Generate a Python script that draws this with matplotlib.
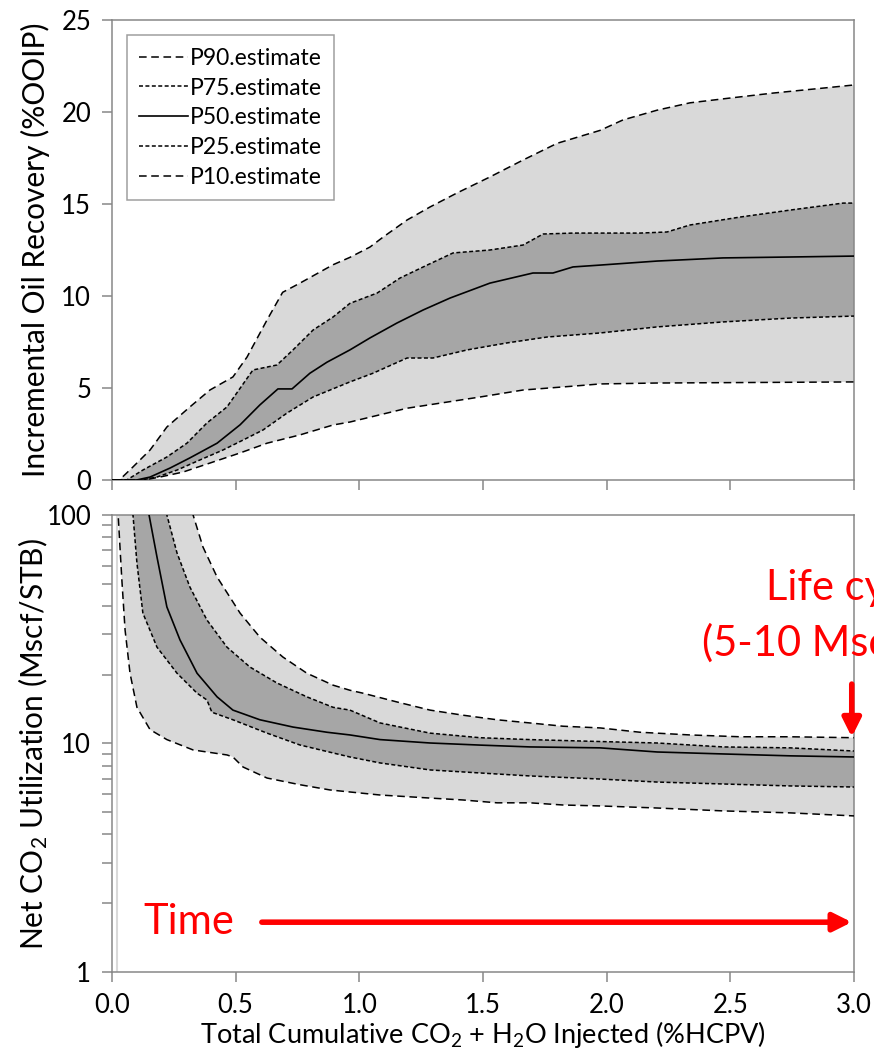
import numpy as np
import matplotlib.pyplot as plt
from matplotlib.ticker import FixedLocator, FormatStrFormatter, LogLocator, NullFormatter

plt.rcParams['font.family'] = ['Lato', 'DejaVu Sans']
plt.rcParams['mathtext.fontset'] = 'custom'
plt.rcParams['mathtext.rm'] = 'Lato'
plt.rcParams['mathtext.default'] = 'regular'

# %% top panel: incremental oil recovery (%OOIP) vs injected (%HCPV)
p90_x = [0, 0.03, 0.085, 0.154, 0.222, 0.315, 0.396, 0.489, 0.546, 0.627, 0.69, 0.76, 0.894, 0.962,
         1.043, 1.096, 1.193, 1.286, 1.395, 1.528, 1.662, 1.8, 1.973, 2.066, 2.204, 2.337, 2.499,
         2.673, 2.875, 3.0]
p90_y = [0, 0, 0.71, 1.63, 2.88, 3.97, 4.89, 5.6, 6.68, 8.7, 10.2, 10.7, 11.7, 12.1,
         12.66, 13.2, 14.13, 14.84, 15.6, 16.47, 17.39, 18.3, 19.0, 19.57, 20.1, 20.5, 20.76,
         21.03, 21.3, 21.47]
p75_x = [0, 0.06, 0.125, 0.222, 0.303, 0.384, 0.465, 0.57, 0.667, 0.732, 0.813, 0.894, 0.962,
         1.072, 1.165, 1.274, 1.379, 1.528, 1.662, 1.743, 1.864, 1.973, 2.135, 2.244, 2.337,
         2.539, 2.742, 2.956, 3.0]
p75_y = [0, 0, 0.54, 1.25, 2.0, 3.1, 3.97, 5.98, 6.25, 7.07, 8.15, 8.86, 9.6,
         10.16, 10.98, 11.68, 12.34, 12.5, 12.77, 13.37, 13.42, 13.42, 13.42, 13.48, 13.86,
         14.29, 14.67, 15.05, 15.05]
p50_x = [0, 0.1, 0.154, 0.235, 0.315, 0.425, 0.518, 0.598, 0.671, 0.728, 0.8, 0.869, 0.962,
         1.043, 1.152, 1.258, 1.367, 1.528, 1.702, 1.783, 1.864, 1.973, 2.204, 2.47, 2.742, 3.0]
p50_y = [0, 0, 0.16, 0.65, 1.2, 2.0, 3.0, 4.08, 4.95, 4.95, 5.8, 6.4, 7.07,
         7.72, 8.53, 9.24, 9.89, 10.7, 11.25, 11.25, 11.58, 11.68, 11.9, 12.07, 12.12, 12.17]
p25_x = [0, 0.12, 0.182, 0.263, 0.356, 0.449, 0.53, 0.611, 0.708, 0.813, 0.882, 0.962, 1.055,
         1.193, 1.298, 1.436, 1.597, 1.759, 1.973, 2.204, 2.47, 2.742, 3.0]
p25_y = [0, 0, 0.16, 0.54, 1.09, 1.63, 2.17, 2.72, 3.64, 4.51, 4.89, 5.33, 5.8,
         6.63, 6.63, 7.07, 7.45, 7.77, 7.99, 8.32, 8.59, 8.8, 8.91]
p10_x = [0, 0.13, 0.194, 0.287, 0.396, 0.518, 0.627, 0.76, 0.894, 0.962, 1.193, 1.488, 1.662,
         1.864, 1.973, 2.2, 3.0]
p10_y = [0, 0, 0.16, 0.43, 0.92, 1.47, 2.0, 2.45, 2.99, 3.15, 3.9, 4.51, 4.89,
         5.1, 5.22, 5.27, 5.33]

# %% bottom panel: net CO2 utilization (Mscf/STB), curves from top to bottom
u_hi_x = [0.30, 0.328, 0.368, 0.425, 0.518, 0.598, 0.691, 0.788, 0.894, 0.962, 1.015, 1.152,
          1.286, 1.419, 1.557, 1.69, 1.824, 1.973, 2.135, 2.337, 2.54, 2.742, 3.0]
u_hi_y = [150, 100, 72.4, 53.5, 37.2, 29.2, 23.9, 20.3, 18.0, 17.1, 16.6, 15.2,
          14.0, 13.3, 12.7, 12.3, 11.9, 11.7, 11.2, 10.9, 10.7, 10.7, 10.6]
u_q3_x = [0.20, 0.222, 0.263, 0.315, 0.384, 0.465, 0.558, 0.667, 0.788, 0.894, 0.962, 1.084,
          1.286, 1.488, 1.69, 1.973, 2.204, 2.47, 2.742, 3.0]
u_q3_y = [150, 100, 68.2, 48.4, 34.7, 26.4, 21.6, 18.4, 16.0, 14.4, 14.0, 12.3,
          11.1, 10.6, 10.4, 10.2, 10.05, 9.66, 9.57, 9.27]
u_md_x = [0.14, 0.15, 0.182, 0.222, 0.275, 0.344, 0.425, 0.489, 0.598, 0.732, 0.869, 0.962,
          1.084, 1.286, 1.488, 1.69, 1.973, 2.204, 2.47, 2.742, 3.0]
u_md_y = [130, 100, 65.5, 39.6, 28.4, 20.3, 16.0, 14.0, 12.7, 11.8, 11.2, 10.9,
          10.4, 10.05, 9.84, 9.66, 9.57, 9.18, 9.0, 8.83, 8.73]
u_q1_x = [0.078, 0.085, 0.101, 0.125, 0.182, 0.263, 0.344, 0.384, 0.404, 0.489, 0.627, 0.76,
          0.894, 0.962, 1.084, 1.286, 1.488, 1.69, 1.973, 2.204, 2.47, 2.742, 3.0]
u_q1_y = [140, 100, 61.6, 37.2, 26.4, 20.3, 16.6, 15.5, 13.7, 12.7, 11.1, 9.85,
          9.09, 8.73, 8.22, 7.66, 7.43, 7.21, 6.99, 6.78, 6.65, 6.52, 6.45]
u_lo_x = [0.02, 0.025, 0.04, 0.053, 0.073, 0.101, 0.154, 0.222, 0.328, 0.465, 0.489, 0.53,
          0.627, 0.76, 0.882, 1.084, 1.286, 1.419, 1.557, 1.69, 1.824, 1.973, 2.204, 2.47,
          2.742, 3.0]
u_lo_y = [140, 100, 52, 31.4, 20.3, 14.4, 11.5, 10.4, 9.37, 8.91, 8.73, 7.89,
          7.06, 6.6, 6.26, 5.95, 5.77, 5.66, 5.5, 5.5, 5.38, 5.33, 5.22, 5.07,
          4.97, 4.82]

x_ticks = [0.0, 0.5, 1.0, 1.5, 2.0, 2.5, 3.0]
labels = ['P90.estimate', 'P75.estimate', 'P50.estimate', 'P25.estimate', 'P10.estimate']

light = '#d9d9d9'
dark = '#a6a6a6'
axis_c = '#878787'
outer_dash = (5, 3)
inner_dash = (2.6, 1.6)


def band(ax, xa, ya, xb, yb, color):
    ax.fill(np.concatenate([xa, xb[::-1]]), np.concatenate([ya, yb[::-1]]),
            color=color, lw=0, zorder=1)


def style(ax):
    for s in ax.spines.values():
        s.set_color(axis_c)
        s.set_linewidth(1.1)
    ax.tick_params(which='both', direction='out', length=7, width=1.1, color=axis_c,
                   labelsize=18.5, pad=8)
    ax.set_xlim(0, 3.0)
    ax.xaxis.set_major_locator(FixedLocator(x_ticks))
    ax.yaxis.set_label_coords(-0.084, 0.5)


fig = plt.figure(figsize=(8.74, 10.54), dpi=100)
ax1 = fig.add_axes([0.1281, 0.5446, 0.849, 0.4364])
ax2 = fig.add_axes([0.1281, 0.0778, 0.849, 0.4336])

# top
band(ax1, np.array(p90_x), np.array(p90_y), np.array(p10_x), np.array(p10_y), light)
band(ax1, np.array(p75_x), np.array(p75_y), np.array(p25_x), np.array(p25_y), dark)
ax1.plot(p90_x, p90_y, color='k', lw=1.1, dashes=outer_dash, label=labels[0], zorder=3)
ax1.plot(p75_x, p75_y, color='k', lw=1.1, dashes=inner_dash, label=labels[1], zorder=3)
ax1.plot(p50_x, p50_y, color='k', lw=1.2, label=labels[2], zorder=3)
ax1.plot(p25_x, p25_y, color='k', lw=1.1, dashes=inner_dash, label=labels[3], zorder=3)
ax1.plot(p10_x, p10_y, color='k', lw=1.1, dashes=outer_dash, label=labels[4], zorder=3)
style(ax1)
ax1.set_ylim(0, 25)
ax1.set_yticks([0, 5, 10, 15, 20, 25])
ax1.set_xticklabels([])
ax1.set_ylabel('Incremental Oil Recovery (%OOIP)', fontsize=21.5)
leg = ax1.legend(loc='upper left', bbox_to_anchor=(0.02, 0.967), fontsize=16.5,
                 frameon=True, fancybox=False, handlelength=2.1, handletextpad=0.1,
                 labelspacing=0.38, borderpad=0.55, borderaxespad=0)
leg.get_frame().set_edgecolor(axis_c)
leg.get_frame().set_linewidth(1.1)

# bottom
ax2.set_yscale('log')
ax2.axvline(u_lo_x[0], color=light, lw=1.5, zorder=0)
band(ax2, np.array(u_hi_x), np.array(u_hi_y), np.array(u_lo_x), np.array(u_lo_y), light)
band(ax2, np.array(u_q3_x), np.array(u_q3_y), np.array(u_q1_x), np.array(u_q1_y), dark)
ax2.plot(u_hi_x, u_hi_y, color='k', lw=1.1, dashes=outer_dash, zorder=3)
ax2.plot(u_q3_x, u_q3_y, color='k', lw=1.1, dashes=inner_dash, zorder=3)
ax2.plot(u_md_x, u_md_y, color='k', lw=1.2, zorder=3)
ax2.plot(u_q1_x, u_q1_y, color='k', lw=1.1, dashes=inner_dash, zorder=3)
ax2.plot(u_lo_x, u_lo_y, color='k', lw=1.1, dashes=outer_dash, zorder=3)
style(ax2)
ax2.set_ylim(1, 100)
ax2.yaxis.set_major_locator(FixedLocator([1, 10, 100]))
ax2.yaxis.set_major_formatter(FormatStrFormatter('%g'))
ax2.yaxis.set_minor_locator(LogLocator(base=10, subs=np.arange(2, 10)))
ax2.yaxis.set_minor_formatter(NullFormatter())
ax2.xaxis.set_major_formatter(FormatStrFormatter('%.1f'))
ax2.set_ylabel('Net CO$_2$ Utilization (Mscf/STB)', fontsize=21.5)
ax2.set_xlabel('Total Cumulative CO$_2$ + H$_2$O Injected (%HCPV)', fontsize=19.5, labelpad=1)

# red annotations
red = '#ff0000'
ax2.annotate('', xy=(0.997, 0.109), xytext=(0.202, 0.109), xycoords='axes fraction',
             arrowprops=dict(arrowstyle='-|>,head_length=1.1,head_width=0.55',
                             color=red, lw=4, shrinkA=0, shrinkB=0), zorder=5)
ax2.text(0.042, 0.109, 'Time', transform=ax2.transAxes, color=red, fontsize=30,
         va='center', ha='left')
ax2.annotate('', xy=(0.997, 0.514), xytext=(0.997, 0.630), xycoords='axes fraction',
             arrowprops=dict(arrowstyle='-|>,head_length=1.1,head_width=0.55',
                             color=red, lw=4, shrinkA=0, shrinkB=0), zorder=5)
ax2.text(0.881, 0.840, 'Life cycle', transform=ax2.transAxes, color=red, fontsize=30,
         va='center', ha='left')
ax2.text(0.795, 0.720, '(5-10 Mscf/STB)', transform=ax2.transAxes, color=red, fontsize=30,
         va='center', ha='left')

fig.savefig('out.png', dpi=100)
